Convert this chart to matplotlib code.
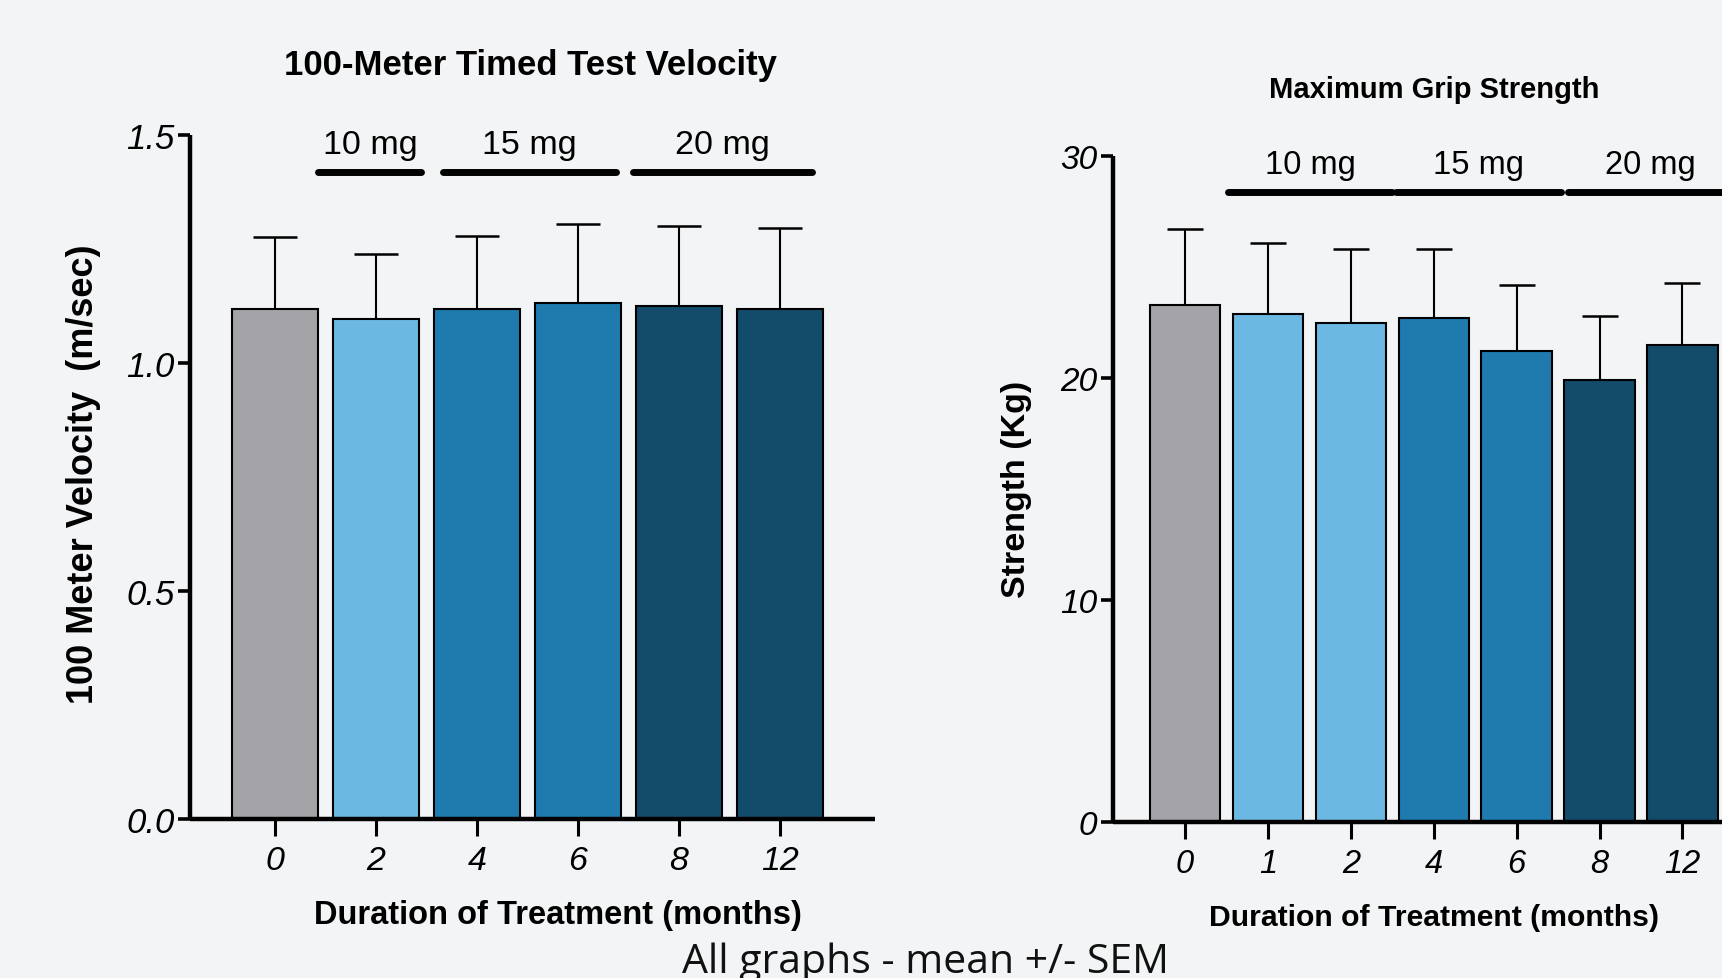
import numpy as np
import matplotlib.pyplot as plt

# ---- data ----
vel_months = ['0', '2', '4', '6', '8', '12']
vel_mean = [1.118, 1.096, 1.118, 1.132, 1.126, 1.119]
vel_sem = [0.158, 0.144, 0.160, 0.172, 0.174, 0.177]
vel_groups = ['ctrl', '10', '15', '15', '20', '20']

grip_months = ['0', '1', '2', '4', '6', '8', '12']
grip_mean = [23.3, 22.9, 22.5, 22.7, 21.2, 19.9, 21.5]
grip_sem = [3.4, 3.2, 3.3, 3.1, 3.0, 2.9, 2.8]
grip_groups = ['ctrl', '10', '10', '15', '15', '20', '20']

dose_labels = ['10 mg', '15 mg', '20 mg']
# bracket spans (in bar index units) for each dose
vel_spans = [(0.43, 1.45), (1.66, 3.38), (3.54, 5.32)]
grip_spans = [(0.52, 2.50), (2.54, 4.53), (4.62, 6.60)]

colors = {'ctrl': '#a3a3a8', '10': '#6bb8e3', '15': '#1f7bae', '20': '#134b6b'}
bg = '#f2f4f5'

W, H = 1722, 979
plt.rcParams['font.family'] = ['Liberation Sans', 'DejaVu Sans']

fig = plt.figure(figsize=(W / 100, H / 100), dpi=100, facecolor=bg)


def px(x, y):
    return x / W, 1 - y / H


def bar_panel(rect, labels, means, sems, groups, xlim, ylim, yticks, ytl,
              spans, line_y, text_y, capsize, tick_fs):
    ax = fig.add_axes(rect)
    ax.set_facecolor('none')
    x = np.arange(len(labels))
    ax.bar(x, means, width=0.85, color=[colors[g] for g in groups],
           edgecolor='black', linewidth=1.5, zorder=2)
    ax.errorbar(x, means, yerr=[np.zeros(len(sems)), sems], fmt='none',
                ecolor='black', elinewidth=1.5, capsize=capsize,
                capthick=1.8, zorder=1)
    ax.set_xlim(*xlim)
    ax.set_ylim(*ylim)
    for s in ['top', 'right']:
        ax.spines[s].set_visible(False)
    for s in ['left', 'bottom']:
        ax.spines[s].set_linewidth(3.2)
        ax.spines[s].set_capstyle('butt')
    ax.set_xticks(x)
    ax.set_xticklabels(labels, fontsize=tick_fs, style='italic')
    ax.set_yticks(yticks)
    ax.set_yticklabels(ytl, fontsize=tick_fs + 0.5, style='italic')
    ax.tick_params(axis='x', length=12, width=2.2, pad=7)
    ax.tick_params(axis='y', length=9, width=2.6, pad=2)
    for (a, b), lab in zip(spans, dose_labels):
        ax.plot([a, b], [line_y, line_y], color='black', lw=5,
                solid_capstyle='round', clip_on=False)
        ax.text((a + b) / 2, text_y, lab, ha='center', va='bottom',
                fontsize=tick_fs, clip_on=False)
    return ax


# left panel: 100-meter velocity
l0, l1 = 190, 875
b0, t0 = 820, 136
ax1 = bar_panel([l0 / W, 1 - b0 / H, (l1 - l0) / W, (b0 - t0) / H],
                vel_months, vel_mean, vel_sem, vel_groups,
                (-0.84, 5.94), (0, 1.5), [0, 0.5, 1.0, 1.5],
                ['0.0', '0.5', '1.0', '1.5'],
                vel_spans, 1.418, 1.445, 15.5, 24.5)

# right panel: grip strength (runs off the right edge)
r0 = 1112.5
unit = 82.9
xl = (-0.875, 6.6)
b1, t1 = 823, 157
ax2 = bar_panel([r0 / W, 1 - b1 / H, (xl[1] - xl[0]) * unit / W, (b1 - t1) / H],
                grip_months, grip_mean, grip_sem, grip_groups,
                xl, (0, 30), [0, 10, 20, 30], ['0', '10', '20', '30'],
                grip_spans, 28.4, 28.9, 12.7, 23.5)

# titles and axis labels
fig.text(*px(530, 65), '100-Meter Timed Test Velocity', ha='center',
         va='center', fontsize=25, fontweight='bold')
fig.text(*px(1434, 90), 'Maximum Grip Strength', ha='center',
         va='center', fontsize=21, fontweight='bold')
fig.text(*px(84, 474), '100 Meter Velocity  (m/sec)', ha='center',
         va='center', rotation=90, fontsize=26, fontweight='bold')
fig.text(*px(1016, 489), 'Strength (Kg)', ha='center', va='center',
         rotation=90, fontsize=24.5, fontweight='bold')
fig.text(*px(558, 916), 'Duration of Treatment (months)', ha='center',
         va='center', fontsize=23.5, fontweight='bold')
fig.text(*px(1434, 918), 'Duration of Treatment (months)', ha='center',
         va='center', fontsize=21.7, fontweight='bold')

fig.text(*px(925, 973), 'All graphs - mean +/- SEM', ha='center',
         va='baseline', fontsize=29.5, family=['Open Sans', 'DejaVu Sans'],
         color='#111111')

fig.savefig('out.png', dpi=100, facecolor=bg)
